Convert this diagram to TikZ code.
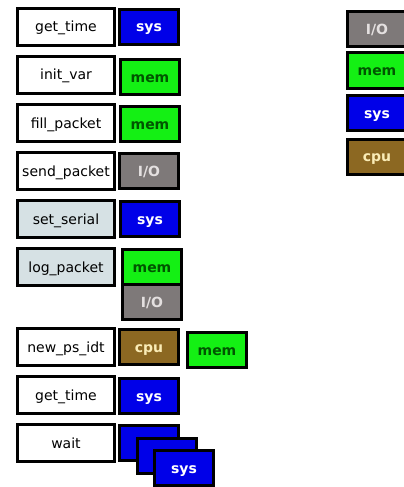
\documentclass[tikz,border=0pt]{standalone}
\usepackage{fontspec}
\setmainfont{DejaVu Sans}
\usepackage{xcolor}
\usepackage{tikz}
\usetikzlibrary{positioning}

\definecolor{syscol}{RGB}{0,0,232}
\definecolor{memcol}{RGB}{20,240,20}
\definecolor{memtxt}{RGB}{0,85,0}
\definecolor{iocol}{RGB}{126,121,121}
\definecolor{iotxt}{RGB}{228,224,224}
\definecolor{cpucol}{RGB}{140,104,34}
\definecolor{cputxt}{RGB}{250,236,182}
\definecolor{shade}{RGB}{214,225,228}

\tikzset{
  fn/.style={draw, line width=3pt, minimum width=97pt, minimum height=37pt,
    inner sep=0pt, text height=10pt, text depth=0pt,
    font=\fontsize{14}{14}\selectfont},
  res/.style={draw, line width=3pt, minimum width=59pt, minimum height=35pt,
    inner sep=0pt, text height=10pt, text depth=0pt,
    font=\bfseries\fontsize{14}{14}\selectfont},
  sysbox/.style={res, fill=syscol, text=white},
  membox/.style={res, fill=memcol, text=memtxt},
  iobox/.style={res, fill=iocol, text=iotxt},
  cpubox/.style={res, fill=cpucol, text=cputxt}
}

\begin{document}
\begin{tikzpicture}[x=1pt, y=-1pt]
\useasboundingbox (0,0) rectangle (404,487);
% call sequence
\foreach \name/\txt/\y/\fc in {f1/get\_time/27/white, f2/init\_var/75/white,
    f3/fill\_packet/123/white, f4/send\_packet/171/white, f5/set\_serial/219/shade,
    f6/log\_packet/267/shade, f7/new\_ps\_idt/347/white, f8/get\_time/395/white,
    f9/wait/443/white}
  \node[fn, fill=\fc] (\name) at (66,\y) {\txt};

% resources used by each call
\node[sysbox, right=2pt of f1] (r1) {sys};
\node[membox, right=3pt of f2, yshift=-2pt] (r2) {mem};
\node[membox, right=3pt of f3, yshift=-1pt] (r3) {mem};
\node[iobox, right=2pt of f4] (r4) {I/O};
\node[sysbox, right=3pt of f5] (r5) {sys};
\node[membox, right=5pt of f6] (r6) {mem};
\node[iobox, below=-3pt of r6] (r6b) {I/O};
\node[cpubox, right=2pt of f7] (r7) {cpu};
\node[membox, right=6pt of r7, yshift=-3pt] (r7b) {mem};
\node[sysbox, right=2pt of f8, yshift=-1pt] (r8) {sys};
\node[sysbox, right=2pt of f9] (w1) {};
\node[sysbox, xshift=18pt, yshift=-13pt] (w2) at (w1) {};
\node[sysbox, xshift=17pt, yshift=-12pt] (w3) at (w2) {sys};

% legend
\foreach \name/\sty/\txt/\y in {kio/iobox/{I/O}/29.5, kmem/membox/mem/70.5,
    ksys/sysbox/sys/113, kcpu/cpubox/cpu/156.5}
  \node[\sty] (\name) at (377,\y) {\txt};
\end{tikzpicture}
\end{document}
